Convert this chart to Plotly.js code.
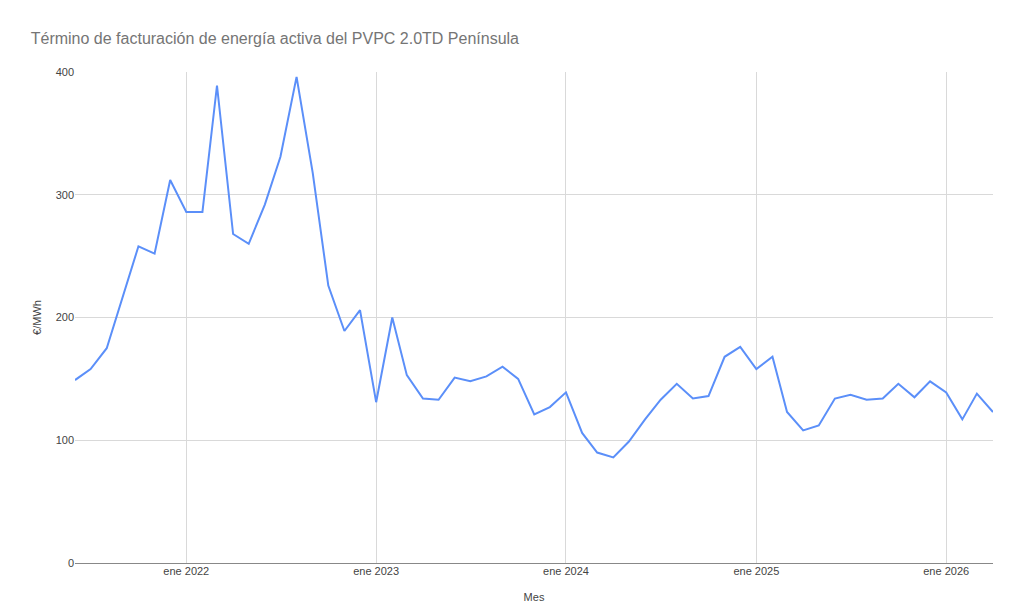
<!DOCTYPE html>
<html>
<head>
<meta charset="utf-8">
<script src="https://cdn.plot.ly/plotly-3.0.1.min.js"></script>
<style>
  html, body { margin: 0; padding: 0; background: #fff; }
  #myPlot { width: 1024px; height: 613px; }
</style>
</head>
<body>
<div id="myPlot"></div>
<script>
// months from jun 2021 to abr 2026
let months = [
  "2021-06-01","2021-07-01","2021-08-01","2021-09-01","2021-10-01","2021-11-01","2021-12-01",
  "2022-01-01","2022-02-01","2022-03-01","2022-04-01","2022-05-01","2022-06-01",
  "2022-07-01","2022-08-01","2022-09-01","2022-10-01","2022-11-01","2022-12-01",
  "2023-01-01","2023-02-01","2023-03-01","2023-04-01","2023-05-01","2023-06-01",
  "2023-07-01","2023-08-01","2023-09-01","2023-10-01","2023-11-01","2023-12-01",
  "2024-01-01","2024-02-01","2024-03-01","2024-04-01","2024-05-01","2024-06-01",
  "2024-07-01","2024-08-01","2024-09-01","2024-10-01","2024-11-01","2024-12-01",
  "2025-01-01","2025-02-01","2025-03-01","2025-04-01","2025-05-01","2025-06-01",
  "2025-07-01","2025-08-01","2025-09-01","2025-10-01","2025-11-01","2025-12-01",
  "2026-01-01","2026-02-01","2026-03-01","2026-04-01"
];

// €/MWh
let precio = [
  149, 158, 175, 217, 258, 252, 312,
  286, 286, 389, 268, 260, 292,
  331, 396, 318, 226, 189, 206,
  131, 200, 153, 134, 133, 151,
  148, 152, 160, 150, 121, 127,
  139, 106, 90, 86, 99, 117,
  133, 146, 134, 136, 168, 176,
  158, 168, 123, 108, 112, 134,
  137, 133, 134, 146, 135, 148,
  139, 117, 138, 123
];

let tickVals = ["2022-01-01","2023-01-01","2024-01-01","2025-01-01","2026-01-01"];
let tickText = ["ene 2022","ene 2023","ene 2024","ene 2025","ene 2026"];

let yTicks = [0, 100, 200, 300, 400];

var trace1 = {
  x: months,
  y: precio,
  type: 'scatter',
  mode: 'lines',
  line: { color: '#5b8ff9', width: 2 },
  name: '€/MWh'
};

var layout = {
  width: 1024,
  height: 613,
  paper_bgcolor: '#ffffff',
  plot_bgcolor: '#ffffff',
  showlegend: false,
  font: { family: 'Liberation Sans, Arial, sans-serif', size: 11, color: '#444' },
  margin: { l: 75, r: 31, t: 72, b: 50 },
  title: {
    text: 'Término de facturación de energía activa del PVPC 2.0TD Península',
    font: { family: 'Liberation Sans, Arial, sans-serif', size: 16, color: '#757575' },
    x: 0.03, xref: 'container', xanchor: 'left',
    y: 0.938, yref: 'container', yanchor: 'middle'
  },
  xaxis: {
    type: 'date',
    range: ['2021-06-01', '2026-04-01'],
    tickvals: tickVals,
    ticktext: tickText,
    showgrid: true,
    gridcolor: '#d9d9d9',
    zeroline: false,
    showline: false,
    ticks: '',
    tickfont: { size: 11, color: '#444' },
    title: { text: 'Mes', font: { size: 11, color: '#444' }, standoff: 17 }
  },
  yaxis: {
    range: [0, 400],
    tickvals: yTicks,
    showgrid: true,
    gridcolor: '#d9d9d9',
    zeroline: true,
    zerolinecolor: '#888',
    zerolinewidth: 1,
    showline: false,
    ticks: '',
    tickfont: { size: 11, color: '#444' },
    title: { text: '€/MWh', font: { size: 11, color: '#444' }, standoff: 11 }
  }
};

Plotly.newPlot("myPlot", [trace1], layout, { displayModeBar: false, staticPlot: true });
</script>
</body>
</html>
